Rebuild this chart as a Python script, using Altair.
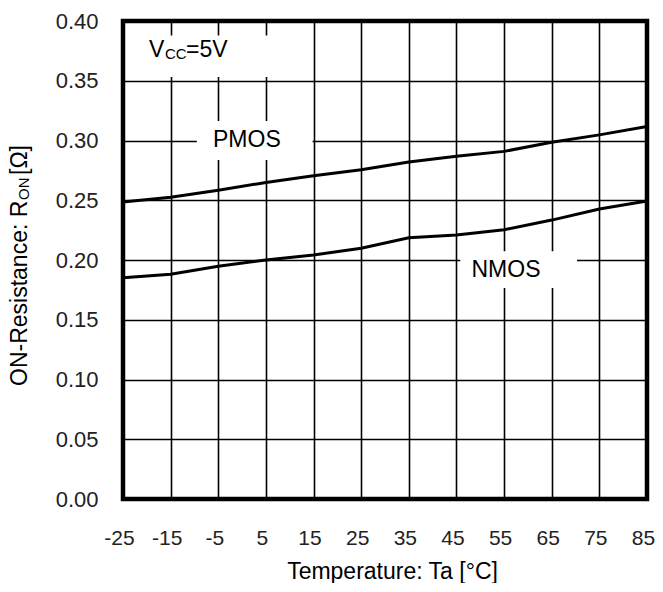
import altair as alt
import pandas as pd

# ---- data ----
temps = [-25, -15, -5, 5, 15, 25, 35, 45, 55, 65, 75, 85]
pmos = [0.2485, 0.2526, 0.2583, 0.2649, 0.2705, 0.2755, 0.2820, 0.2868, 0.2909, 0.2986, 0.3047, 0.3117]
nmos = [0.1852, 0.1881, 0.1947, 0.2000, 0.2042, 0.2098, 0.2186, 0.2209, 0.2253, 0.2334, 0.2427, 0.2494]

x_ticks = [-25, -15, -5, 5, 15, 25, 35, 45, 55, 65, 75, 85]
y_ticks = [0.0, 0.05, 0.10, 0.15, 0.20, 0.25, 0.30, 0.35, 0.40]

label_names = ["PMOS", "NMOS"]
label_x = [1.0, 55.4]
label_y = [0.3004, 0.1917]

box_x1 = [-9.5, 45.8, -23.5]
box_x2 = [14.8, 70.3, 9.8]
box_y1 = [0.2837, 0.1765, 0.3532]
box_y2 = [0.3164, 0.2074, 0.3879]

vcc_x = [-19.55]
vcc_y = [0.3702]

FONT = "Liberation Sans"

df_lines = pd.DataFrame({
    "temp": temps + temps,
    "ron": pmos + nmos,
    "series": ["PMOS"] * len(temps) + ["NMOS"] * len(temps),
})
df_labels = pd.DataFrame({"name": label_names, "x": label_x, "y": label_y})
df_boxes = pd.DataFrame({"x1": box_x1, "x2": box_x2, "y1": box_y1, "y2": box_y2})
df_vcc = pd.DataFrame({"x": vcc_x, "y": vcc_y})
df_one = pd.DataFrame({"k": [0]})

xscale = alt.Scale(domain=[-25, 85], nice=False, zero=False)
yscale = alt.Scale(domain=[0, 0.4], nice=False)

xaxis = alt.Axis(
    values=x_ticks, grid=True, gridColor="black", gridWidth=1.6, gridOpacity=1,
    domain=False, ticks=False, labelFont=FONT, labelFontSize=21,
    labelColor="#222", labelPadding=28, labelOffset=-4, labelFlush=False,
    labelBaseline="top", labelExpr="toString(datum.value)",
    title="Temperature: Ta [°C]", titleFont=FONT, titleFontSize=23,
    titleFontWeight="normal", titleColor="black",
    titleX=269, titleY=61, titleBaseline="top", titleAnchor="start", titleAlign="center",
)
yaxis = alt.Axis(
    values=y_ticks, format=".2f", grid=True, gridColor="black", gridWidth=1.6, gridOpacity=1,
    domain=False, ticks=False, labelFont=FONT, labelFontSize=22,
    labelColor="#222", labelPadding=25, labelFlush=False, title=None,
)

boxes = alt.Chart(df_boxes).mark_rect(color="white").encode(
    x=alt.X("x1:Q", scale=xscale, axis=xaxis),
    x2="x2:Q",
    y=alt.Y("y1:Q", scale=yscale, axis=yaxis),
    y2="y2:Q",
)

lines = alt.Chart(df_lines).mark_line(color="black", strokeWidth=3).encode(
    x=alt.X("temp:Q", scale=xscale),
    y=alt.Y("ron:Q", scale=yscale),
    detail="series:N",
)

labels = alt.Chart(df_labels).mark_text(
    font=FONT, fontSize=23, color="black", align="center", baseline="middle"
).encode(
    x=alt.X("x:Q", scale=xscale),
    y=alt.Y("y:Q", scale=yscale),
    text="name:N",
)

vcc_v = alt.Chart(df_vcc).mark_text(
    text="V", font=FONT, fontSize=23, color="black", align="left", baseline="alphabetic"
).encode(x=alt.X("x:Q", scale=xscale), y=alt.Y("y:Q", scale=yscale))
vcc_cc = alt.Chart(df_vcc).mark_text(
    text="CC", font=FONT, fontSize=15, color="black", align="left", baseline="alphabetic",
    dx=16, dy=2,
).encode(x=alt.X("x:Q", scale=xscale), y=alt.Y("y:Q", scale=yscale))
vcc_rest = alt.Chart(df_vcc).mark_text(
    text="=5V", font=FONT, fontSize=23, color="black", align="left", baseline="alphabetic",
    dx=37,
).encode(x=alt.X("x:Q", scale=xscale), y=alt.Y("y:Q", scale=yscale))

# rotated y-axis title with subscript
yt1 = alt.Chart(df_one).mark_text(
    text="ON-Resistance: R", font=FONT, fontSize=23, color="black",
    align="left", baseline="middle", angle=270,
).encode(x=alt.value(-103), y=alt.value(365))
yt2 = alt.Chart(df_one).mark_text(
    text="ON", font=FONT, fontSize=15, color="black",
    align="left", baseline="middle", angle=270, dx=186, dy=4,
).encode(x=alt.value(-103), y=alt.value(365))
yt3 = alt.Chart(df_one).mark_text(
    text="\u00a0[Ω]", font=FONT, fontSize=23, color="black",
    align="left", baseline="middle", angle=270, dx=211,
).encode(x=alt.value(-103), y=alt.value(365))

chart = alt.layer(
    boxes, lines, labels, vcc_v, vcc_cc, vcc_rest, yt1, yt2, yt3
).properties(
    width=524, height=478,
    autosize=alt.AutoSizeParams(type="none"),
    padding={"left": 115, "top": 13, "right": 8, "bottom": 84},
    background="white",
).configure_view(
    stroke="black", strokeWidth=4.5, fill="white"
)

chart.save("out.html", embed_options={"renderer": "svg", "actions": False})
